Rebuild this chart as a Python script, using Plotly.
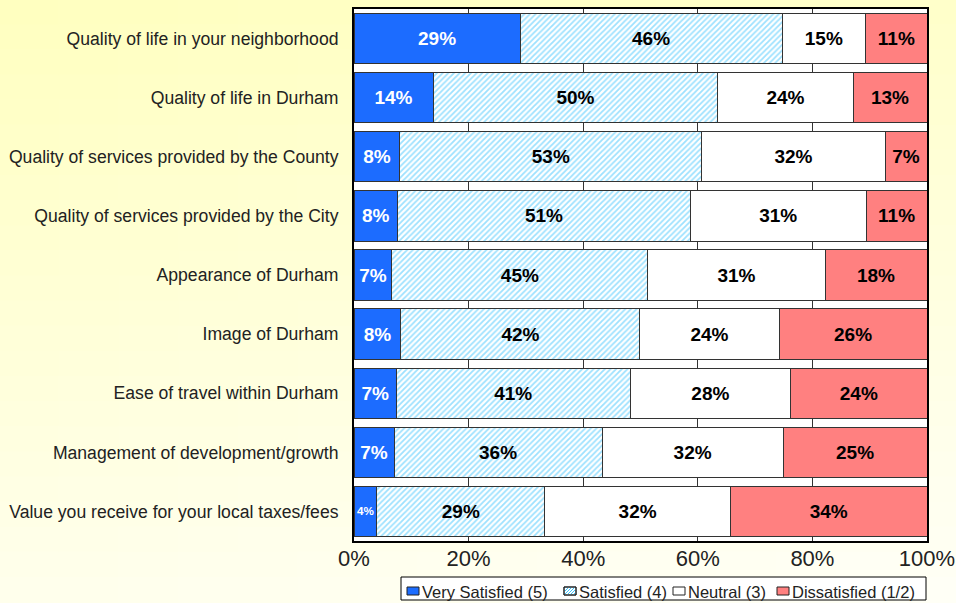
import plotly.graph_objects as go

categories = [
    "Quality of life in your neighborhood",
    "Quality of life in Durham",
    "Quality of services provided by the County",
    "Quality of services provided by the City",
    "Appearance of Durham",
    "Image of Durham",
    "Ease of travel within Durham",
    "Management of development/growth",
    "Value you receive for your local taxes/fees",
]
very_satisfied = [29.0, 13.8, 8.0, 7.6, 6.6, 8.2, 7.4, 7.0, 4.0]
satisfied = [45.7, 49.7, 52.7, 51.1, 44.7, 41.7, 40.8, 36.3, 29.3]
neutral = [14.6, 23.6, 32.0, 30.7, 30.9, 24.3, 28.0, 31.6, 32.4]
dissatisfied = [10.7, 12.9, 7.3, 10.6, 17.8, 25.8, 23.8, 25.1, 34.3]
series_names = ["Very Satisfied (5)", "Satisfied (4)", "Neutral (3)", "Dissatisfied (1/2)"]
x_ticks = [0, 20, 40, 60, 80, 100]
x_tick_labels = ["0%", "20%", "40%", "60%", "80%", "100%"]

BLUE = "#1c6cff"
PINK = "#ff8080"
HATCH = "#3cc4ff"
FONT = "Arial, Liberation Sans, sans-serif"

series = [
    (series_names[0], very_satisfied, dict(color=BLUE), "white"),
    (series_names[1], satisfied,
     dict(color="white", pattern=dict(shape="/", fgcolor=HATCH, bgcolor="white", size=4, solidity=0.45)),
     "black"),
    (series_names[2], neutral, dict(color="white"), "black"),
    (series_names[3], dissatisfied, dict(color=PINK), "black"),
]

fig = go.Figure()
for name, vals, mk, tcolor in series:
    mk = dict(mk)
    mk["line"] = dict(color="#333333", width=1)
    fig.add_trace(go.Bar(
        name=name, y=categories, x=vals, orientation="h",
        marker=mk,
        text=[f"{round(v)}%" for v in vals],
        textposition="inside", insidetextanchor="middle", textangle=0,
        insidetextfont=dict(family=FONT, size=19, color=tcolor, weight="bold"),
        hoverinfo="skip", showlegend=False,
    ))

# pixel geometry of plot area
W, H = 956, 603
L, R, T, B = 354, 927, 9, 541


def px(x):
    return (x - L) / (R - L)


def py(y):
    return (B - y) / (B - T)


# background gradient (yellow top-left to near white bottom)
shapes = []
nx, ny = 16, 24
for i in range(nx):
    for j in range(ny):
        fx = (i + 0.5) / nx
        fy = (j + 0.5) / ny  # 0 at top
        t = 0.8 * fy + 0.2 * fx
        t = max(0, min(1, t))
        b = int(191 + (248 - 191) * t)
        shapes.append(dict(
            type="rect", xref="paper", yref="paper", layer="below",
            x0=px(W * i / nx - 1), x1=px(W * (i + 1) / nx + 1),
            y0=py(H * (j + 1) / ny + 1), y1=py(H * j / ny - 1),
            fillcolor=f"rgb(255,255,{b})", line=dict(width=0),
        ))
shapes.append(dict(type="rect", xref="paper", yref="paper", layer="below",
                   x0=0, x1=1, y0=0, y1=1, fillcolor="white", line=dict(width=0)))

# custom legend
annotations = []
shapes.append(dict(type="rect", xref="paper", yref="paper", layer="above",
                   x0=px(401), x1=px(926), y0=py(600), y1=py(577),
                   fillcolor="white", line=dict(color="black", width=1)))
leg_sym_x = [407, 564, 673, 777]
leg_fill = [BLUE, "white", "white", PINK]
sy0, sy1 = 587, 595
for k, name in enumerate(series_names):
    x0 = leg_sym_x[k]
    x1 = x0 + 12
    shapes.append(dict(type="rect", xref="paper", yref="paper", layer="above",
                       x0=px(x0), x1=px(x1), y0=py(sy1), y1=py(sy0),
                       fillcolor=leg_fill[k], line=dict(color="#222222", width=1)))
    if k == 1:
        for d in range(-12, 12, 3):
            ax, ay = x0, sy1 + d
            bx, by = x1, sy1 + d - (x1 - x0)
            if ay > sy1:
                ax += ay - sy1
                ay = sy1
            if by < sy0:
                bx -= sy0 - by
                by = sy0
            if bx > ax + 1 and ax < x1 and bx > x0:
                shapes.append(dict(type="line", xref="paper", yref="paper", layer="above",
                                   x0=px(ax + 0.5), y0=py(ay - 0.5), x1=px(bx - 0.5), y1=py(by + 0.5),
                                   line=dict(color=HATCH, width=1)))
        shapes.append(dict(type="rect", xref="paper", yref="paper", layer="above",
                           x0=px(x0), x1=px(x1), y0=py(sy1), y1=py(sy0),
                           fillcolor="rgba(0,0,0,0)", line=dict(color="#222222", width=1)))
    annotations.append(dict(xref="paper", yref="paper", x=px(x1 + 1), y=py(592),
                            xanchor="left", yanchor="middle", showarrow=False,
                            text=name, font=dict(family=FONT, size=16.5, color="#222222")))

fig.update_layout(
    width=W, height=H,
    margin=dict(l=L, r=W - R, t=T, b=H - B),
    barmode="stack", bargap=0.15,
    paper_bgcolor="#ffffe0", plot_bgcolor="white",
    font=dict(family=FONT, color="#222222"),
    shapes=shapes, annotations=annotations,
    showlegend=False,
    xaxis=dict(
        range=[0, 100], tickvals=x_ticks, ticktext=x_tick_labels,
        tickfont=dict(size=22, color="#222222"),
        showgrid=True, gridcolor="#333333", gridwidth=1,
        showline=True, linecolor="black", linewidth=2, mirror=True,
        zeroline=False, ticks="", ticklen=0, automargin=False,
        ticklabelstandoff=-3,
    ),
    yaxis=dict(
        autorange="reversed",
        tickfont=dict(size=17.6, color="#222222"),
        showline=True, linecolor="black", linewidth=2, mirror=True,
        ticks="", ticklabelstandoff=10, automargin=False,
    ),
)

fig.write_html("out.html", config={"displayModeBar": False},
               post_script="document.body.style.margin='0';document.body.style.overflow='hidden';")
